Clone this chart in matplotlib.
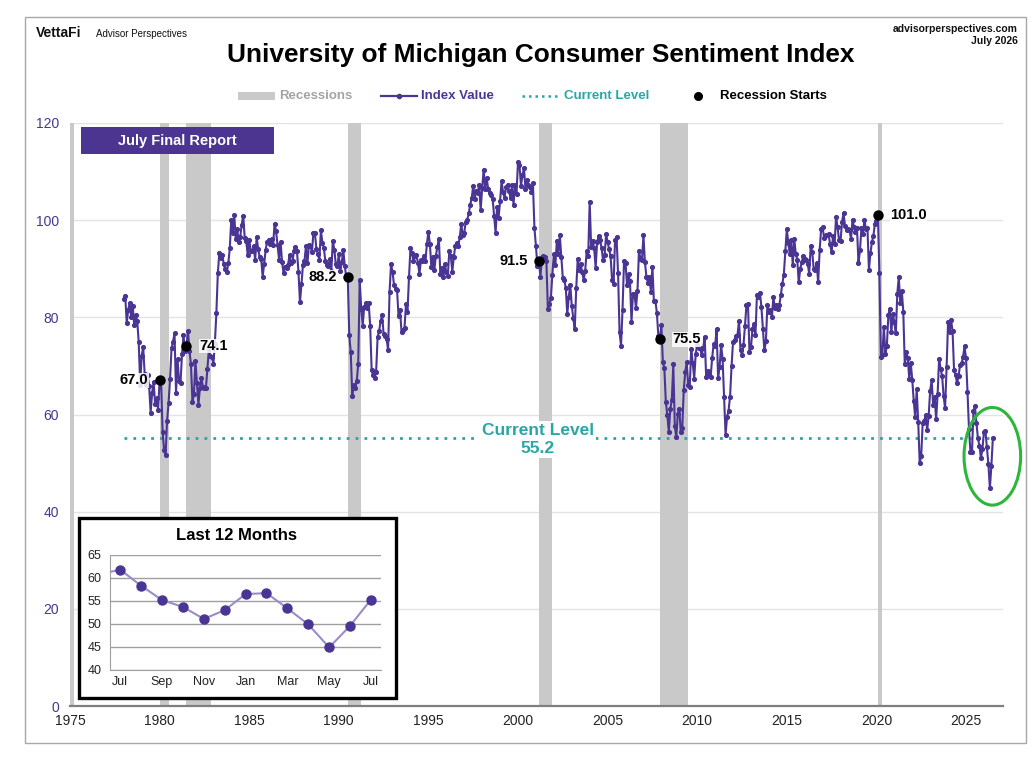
import matplotlib
matplotlib.use("Agg")
import matplotlib.pyplot as plt
from matplotlib.patches import Rectangle, Ellipse
from matplotlib.lines import Line2D
import numpy as np

plt.rcParams['font.family'] = ['Liberation Sans', 'DejaVu Sans']

# ---------------- data ----------------
start_year = 1978
idx_1978_1983 = [
    83.7, 84.3, 78.8, 81.6, 82.9, 80.0, 82.4, 78.4, 80.4, 79.3, 75.0, 66.1,
    72.1, 73.9, 68.4, 66.0, 68.1, 65.8, 60.4, 64.5, 66.7, 62.1, 63.3, 61.0,
    67.0, 66.9, 56.5, 52.7, 51.7, 58.7, 62.3, 67.3, 73.7, 75.0, 76.7, 64.5,
    71.4, 66.9, 66.5, 72.4, 76.3, 73.1, 74.1, 77.2, 73.1, 70.3, 62.5, 64.3,
    71.0, 66.5, 62.0, 65.5, 67.5, 65.7, 65.4, 65.4, 69.3, 73.4, 72.1, 71.9,
    70.4, 74.6, 80.8, 89.1, 93.3, 92.2, 92.8, 90.9, 89.9, 89.3, 91.1, 94.2,
]
idx_1984_1989 = [
    100.1, 97.4, 101.0, 96.1, 98.1, 95.5, 96.6, 99.1, 100.9, 96.3, 95.7, 92.9,
    96.0, 93.7, 93.7, 94.6, 91.8, 96.5, 94.0, 92.4, 92.1, 88.4, 90.9, 93.9,
    95.6, 95.9, 95.1, 96.2, 94.8, 99.3, 97.7, 94.9, 91.9, 95.6, 91.4, 89.1,
    90.4, 90.2, 90.8, 92.8, 91.1, 91.5, 93.7, 94.4, 93.6, 89.3, 83.1, 86.8,
    90.8, 91.6, 94.6, 91.2, 94.8, 94.7, 93.4, 97.4, 97.3, 94.1, 93.0, 91.9,
    97.9, 95.4, 94.3, 91.5, 90.7, 90.6, 92.0, 89.6, 95.8, 93.9, 90.9, 90.5,
]
idx_1990_1995 = [
    93.0, 89.5, 91.3, 93.9, 90.6, 88.3, 88.2, 76.4, 72.8, 63.9, 66.0, 65.5,
    66.8, 70.4, 87.7, 81.8, 78.3, 82.1, 82.9, 82.0, 83.0, 78.3, 69.1, 68.2,
    67.5, 68.8, 76.0, 77.2, 79.2, 80.4, 76.6, 76.1, 75.6, 73.3, 85.3, 91.0,
    89.3, 86.6, 85.9, 85.6, 80.3, 81.5, 77.0, 77.3, 77.9, 82.7, 81.2, 88.2,
    94.3, 93.2, 91.5, 92.6, 92.8, 91.2, 89.0, 91.7, 91.5, 92.7, 91.6, 95.1,
    97.6, 95.1, 90.3, 92.5, 89.8, 92.7, 94.4, 96.2, 88.9, 90.2, 88.2, 91.0,
]
idx_1996_2001 = [
    89.3, 88.5, 93.7, 92.7, 89.4, 92.4, 94.7, 95.3, 94.7, 96.5, 99.2, 96.9,
    97.4, 99.7, 100.0, 101.4, 103.2, 104.5, 107.1, 104.4, 106.0, 105.6, 107.2, 102.1,
    106.6, 110.4, 106.5, 108.7, 106.5, 105.6, 105.2, 104.4, 100.9, 97.4, 102.7, 100.5,
    103.9, 108.1, 105.7, 104.6, 106.8, 107.3, 106.0, 104.5, 107.2, 103.2, 107.2, 105.4,
    112.0, 111.3, 107.1, 109.2, 110.7, 106.4, 108.3, 107.3, 106.8, 105.8, 107.6, 98.4,
    94.7, 90.6, 91.5, 88.4, 92.0, 92.6, 92.4, 91.5, 81.8, 82.7, 83.9, 88.8,
]
idx_2002_2007 = [
    93.0, 90.7, 95.7, 93.0, 96.9, 92.4, 88.1, 87.6, 86.1, 80.6, 84.2, 86.7,
    82.4, 79.9, 77.6, 86.0, 92.1, 89.7, 90.9, 89.3, 87.7, 89.6, 93.7, 92.6,
    103.8, 94.4, 95.8, 94.2, 90.2, 95.6, 96.7, 95.9, 94.2, 91.7, 92.8, 97.1,
    95.5, 94.1, 92.6, 87.7, 86.9, 96.0, 96.5, 89.1, 76.9, 74.2, 81.6, 91.5,
    91.2, 86.7, 88.9, 87.4, 79.1, 84.9, 84.7, 82.0, 85.4, 93.6, 92.1, 91.7,
    96.9, 91.3, 88.4, 87.1, 88.3, 85.3, 90.4, 83.4, 83.4, 80.9, 76.1, 75.5,
]
idx_2008_2013 = [
    78.4, 70.8, 69.5, 62.6, 59.8, 56.4, 61.2, 63.0, 70.3, 57.6, 55.3, 60.1,
    61.2, 56.3, 57.3, 65.1, 68.7, 70.8, 66.0, 65.7, 73.5, 70.6, 67.4, 72.5,
    74.4, 73.6, 73.6, 72.2, 73.6, 76.0, 67.8, 68.9, 68.2, 67.7, 71.6, 74.5,
    74.2, 77.5, 67.5, 69.8, 74.3, 71.5, 63.7, 55.8, 59.5, 60.8, 63.7, 69.9,
    75.0, 75.3, 76.2, 76.4, 79.3, 73.2, 72.3, 74.3, 78.3, 82.6, 82.7, 72.9,
    73.8, 77.6, 78.6, 76.4, 84.5, 84.1, 85.1, 82.1, 77.5, 73.2, 75.1, 82.5,
]
idx_2014_2019 = [
    81.2, 81.6, 80.0, 84.1, 81.9, 82.5, 81.8, 82.5, 84.6, 86.9, 88.8, 93.6,
    98.1, 95.4, 93.0, 95.9, 90.7, 96.1, 93.1, 91.9, 87.2, 90.0, 91.3, 92.6,
    92.0, 91.7, 91.0, 89.0, 94.7, 93.5, 90.0, 89.8, 91.2, 87.2, 93.8, 98.2,
    98.5, 96.3, 96.9, 97.0, 97.1, 95.0, 93.4, 96.8, 95.1, 100.7, 98.5, 95.9,
    95.7, 99.7, 101.4, 98.8, 98.0, 98.2, 97.9, 96.2, 100.1, 98.6, 97.5, 98.3,
    91.2, 93.8, 98.4, 97.2, 100.0, 98.2, 98.4, 89.8, 93.2, 95.5, 96.8, 99.3,
]
idx_2020_2026 = [
    99.8, 101.0, 89.1, 71.8, 72.3, 78.1, 72.5, 74.1, 80.4, 81.8, 76.9, 80.7,
    79.0, 76.8, 84.9, 88.3, 82.9, 85.5, 81.2, 70.3, 72.8, 71.7, 67.4, 70.6,
    67.2, 62.8, 59.4, 65.2, 58.4, 50.0, 51.5, 58.2, 58.6, 59.9, 56.8, 59.7,
    64.9, 67.0, 62.0, 63.7, 59.0, 64.2, 71.5, 69.4, 67.9, 63.8, 61.3, 69.7,
    79.0, 76.9, 79.4, 77.2, 69.1, 68.2, 66.4, 67.9, 70.1, 70.5, 71.8, 74.0,
    71.7, 64.7, 57.0, 52.2, 52.2, 60.7, 61.7, 58.2, 55.1, 53.6, 51.0, 52.9,
    56.4, 56.6, 53.3, 49.8, 44.8, 49.5, 55.2,
]

# recessions (decimal year start, end)
rec_starts = [1973 + 10/12, 1980.0, 1981 + 6/12, 1990 + 6/12, 2001 + 2/12, 2007 + 11/12, 2020 + 1/12]
rec_ends = [1975 + 2/12, 1980 + 6/12, 1982 + 10/12, 1991 + 2/12, 2001 + 10/12, 2009 + 5/12, 2020 + 3/12]
rec_labeled = [1980.0, 1981 + 6/12, 1990 + 6/12, 2001 + 2/12, 2007 + 11/12, 2020 + 1/12]
rec_label_side = ['left', 'right', 'left', 'left', 'right', 'right']

current_level = 55.2
inset_month_labels = ['Jul', 'Sep', 'Nov', 'Jan', 'Mar', 'May', 'Jul']

y_ticks = [0, 20, 40, 60, 80, 100, 120]
x_ticks = [1975, 1980, 1985, 1990, 1995, 2000, 2005, 2010, 2015, 2020, 2025]

# ---------------- build ----------------
values = np.array(idx_1978_1983 + idx_1984_1989 + idx_1990_1995 + idx_1996_2001 +
                  idx_2002_2007 + idx_2008_2013 + idx_2014_2019 + idx_2020_2026)
dates = start_year + np.arange(len(values)) / 12.0

PURPLE = '#4a3594'
TEAL = '#2aa6a6'
GRAY = '#c9c9c9'

W, H = 1036, 764
fig = plt.figure(figsize=(W / 100, H / 100), dpi=100)
fig.patch.set_facecolor('white')

def fx(px):
    return px / W

def fy(py):
    return 1 - py / H

# outer frame
fig.add_artist(Rectangle((fx(25), fy(743)), fx(1026) - fx(25), fy(17) - fy(743),
                         transform=fig.transFigure, facecolor='none',
                         edgecolor='#a8a8a8', lw=1.0, zorder=0))

ax = fig.add_axes([fx(70), fy(706), fx(1003) - fx(70), fy(123) - fy(706)])
ax.set_xlim(1975, 1975 + (1003 - 70) / 17.92)
ax.set_ylim(0, 120)

for s, e in zip(rec_starts, rec_ends):
    ax.axvspan(s, e + 0.05, color=GRAY, lw=0, zorder=1)

ax.set_yticks(y_ticks)
ax.set_xticks(x_ticks)
ax.grid(axis='y', color='#e3e3e3', lw=1.0, zorder=0)
ax.set_axisbelow(True)
for sp in ['top', 'right', 'left']:
    ax.spines[sp].set_visible(False)
ax.spines['bottom'].set_color('#7f7f7f')
ax.spines['bottom'].set_linewidth(1.6)
ax.tick_params(axis='y', length=0, pad=8, labelsize=10, labelcolor='#3f3a8f')
ax.tick_params(axis='x', length=0, pad=6, labelsize=10, labelcolor='#222222')

# current level
ax.plot([dates[0], dates[-1]], [current_level, current_level], color=TEAL,
        lw=2.0, ls=(0, (1, 2.2)), zorder=2)
ax.text(2001.1, current_level - 0.4, f'Current Level\n{current_level:.1f}', color=TEAL,
        fontsize=12.5, fontweight='bold', ha='center', va='center', linespacing=1.25,
        zorder=4, bbox=dict(facecolor='white', edgecolor='none', pad=1.5))

# index line
ax.plot(dates, values, color=PURPLE, lw=1.5, marker='o', ms=2.7, zorder=3)

# recession start points
for d, side in zip(rec_labeled, rec_label_side):
    i = int(round((d - start_year) * 12))
    v = values[i]
    ax.plot(dates[i], v, 'o', color='black', ms=6.5, zorder=5)
    if side == 'left':
        off, ha = (-8, 0), 'right'
    else:
        off, ha = (9, 0), 'left'
    ax.annotate(f'{v:.1f}', (dates[i], v), xytext=off, textcoords='offset points',
                ha=ha, va='center', fontsize=10.5, fontweight='bold', color='black',
                zorder=6, bbox=dict(facecolor='white', edgecolor='none', pad=0.3, alpha=0.85))

# green ellipse
ax.add_patch(Ellipse((2026.47, 51.4), 3.16, 20.1, facecolor='none',
                     edgecolor='#2db53c', lw=2.2, clip_on=False, zorder=6))

# July Final Report box
fig.add_artist(Rectangle((fx(81), fy(154)), fx(274) - fx(81), fy(127) - fy(154),
                         transform=fig.transFigure, facecolor='#4b3591',
                         edgecolor='none', zorder=3))
fig.text(fx(177.5), fy(140.5), 'July Final Report', color='white', fontsize=10.5,
         fontweight='bold', ha='center', va='center', zorder=4)

# header texts
fig.text(fx(36), fy(33), 'VettaFi', fontsize=10, fontweight='bold', ha='left',
         va='center', color='#111111')
fig.text(fx(96), fy(34), 'Advisor Perspectives', fontsize=7, ha='left', va='center',
         color='#111111')
fig.text(fx(1018), fy(29), 'advisorperspectives.com', fontsize=7.5, fontweight='bold',
         ha='right', va='center', color='#111111')
fig.text(fx(1018), fy(41), 'July 2026', fontsize=7.5, fontweight='bold',
         ha='right', va='center', color='#111111')
fig.text(fx(541), fy(55), 'University of Michigan Consumer Sentiment Index',
         fontsize=18.9, fontweight='bold', ha='center', va='center', color='black')

# legend (figure coordinates)
ly = fy(96)
fig.add_artist(Rectangle((fx(238), fy(100)), fx(275) - fx(238), fy(92) - fy(100),
                         transform=fig.transFigure, facecolor=GRAY, edgecolor='none'))
fig.text(fx(279), ly, 'Recessions', fontsize=9.5, fontweight='bold', color='#a3a3a3',
         ha='left', va='center')
fig.add_artist(Line2D([fx(381), fx(417)], [ly, ly], transform=fig.transFigure,
                      color=PURPLE, lw=1.6))
fig.add_artist(Line2D([fx(399)], [ly], transform=fig.transFigure, color=PURPLE,
                      marker='o', ms=3))
fig.text(fx(421), ly, 'Index Value', fontsize=9.5, fontweight='bold', color=PURPLE,
         ha='left', va='center')
fig.add_artist(Line2D([fx(522), fx(559)], [ly, ly], transform=fig.transFigure,
                      color=TEAL, lw=1.8, ls=(0, (1, 1.6))))
fig.text(fx(564), ly, 'Current Level', fontsize=9.5, fontweight='bold', color=TEAL,
         ha='left', va='center')
fig.add_artist(Line2D([fx(698)], [ly], transform=fig.transFigure, color='black',
                      marker='o', ms=5.5))
fig.text(fx(720), ly, 'Recession Starts', fontsize=9.5, fontweight='bold', color='black',
         ha='left', va='center')

# ---------------- inset ----------------
fig.add_artist(Rectangle((fx(79), fy(698)), fx(396) - fx(79), fy(518) - fy(698),
                         transform=fig.transFigure, facecolor='white',
                         edgecolor='black', lw=2.4, zorder=7))
fig.text(fx(237), fy(535), 'Last 12 Months', fontsize=12, fontweight='bold',
         ha='center', va='center', zorder=9)
axi = fig.add_axes([fx(110), fy(669.5), fx(381) - fx(110), fy(554.5) - fy(669.5)],
                   zorder=8)
axi.patch.set_alpha(0)
last_vals = values[-14:]
last_x = np.arange(-1, 13)
axi.plot(last_x, last_vals, color='#9a8cc8', lw=1.5, zorder=3)
axi.plot(last_x, last_vals, 'o', color=PURPLE, ms=6.5, zorder=4)
axi.set_xlim(-0.49, 12.48)
axi.set_ylim(40, 65)
axi.set_yticks([40, 45, 50, 55, 60, 65])
axi.set_xticks(range(0, 13, 2))
axi.set_xticklabels(inset_month_labels)
axi.grid(axis='y', color='#9f9f9f', lw=1.0)
axi.set_axisbelow(True)
for sp in ['top', 'right']:
    axi.spines[sp].set_visible(False)
axi.spines['left'].set_color('#9f9f9f')
axi.spines['bottom'].set_color('#9f9f9f')
axi.tick_params(length=0, labelsize=9, labelcolor='#222222')
axi.tick_params(axis='y', pad=6)
axi.tick_params(axis='x', pad=5)

fig.savefig('out.png', dpi=100, facecolor='white')
